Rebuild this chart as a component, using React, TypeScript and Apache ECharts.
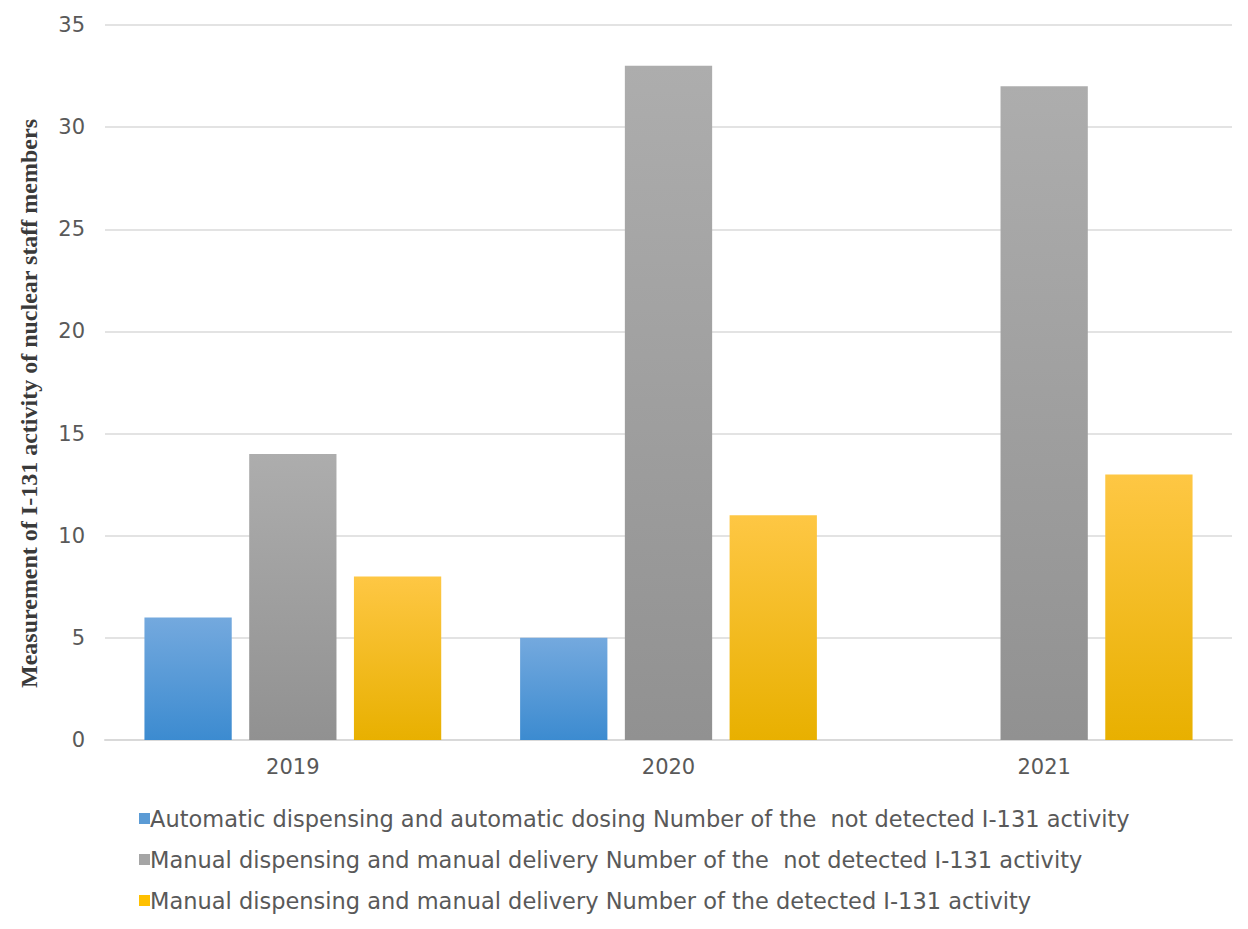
import React, { useEffect, useRef } from "react";
import * as echarts from "echarts";

const categories = ["2019", "2020", "2021"];
const seriesNames = [
  "Automatic dispensing and automatic dosing Number of the  not detected I-131 activity",
  "Manual dispensing and manual delivery Number of the  not detected I-131 activity",
  "Manual dispensing and manual delivery Number of the detected I-131 activity",
];
const autoNotDetected = [6, 5, null];
const manualNotDetected = [14, 33, 32];
const manualDetected = [8, 11, 13];
const yTicks = { min: 0, max: 35, interval: 5 };
const yTitle = "Measurement of I-131 activity of nuclear staff members";

const grad = (top: string, bottom: string) =>
  new echarts.graphic.LinearGradient(0, 0, 0, 1, [
    { offset: 0, color: top },
    { offset: 1, color: bottom },
  ]);

export default function App() {
  const ref = useRef<HTMLDivElement>(null);
  useEffect(() => {
    if (!ref.current) return;
    const chart = echarts.init(ref.current, undefined, { renderer: "svg" });
    const colors = [
      grad("#74a9de", "#3c8bd0"),
      grad("#adadad", "#919191"),
      grad("#fec744", "#e8b000"),
    ];
    const legendColors = ["#5b9bd5", "#a5a5a5", "#ffc000"];
    const data = [autoNotDetected, manualNotDetected, manualDetected];
    chart.setOption({
      animation: false,
      backgroundColor: "#ffffff",
      grid: { left: 105, right: 16, top: 25, bottom: 189, containLabel: false },
      legend: {
        orient: "vertical",
        left: 134,
        top: 802,
        itemWidth: 11,
        itemHeight: 11,
        itemGap: 18,
        icon: "rect",
        textStyle: {
          fontFamily: "DejaVu Sans",
          fontSize: 22.5,
          lineHeight: 23,
          color: "#595959",
          padding: [0, 0, 0, -5],
        },
        data: seriesNames.map((n, i) => ({ name: n, itemStyle: { color: legendColors[i] } })),
      },
      xAxis: {
        type: "category",
        data: categories,
        axisLine: { show: true, lineStyle: { color: "#d9d9d9", width: 2 } },
        axisTick: { show: false },
        axisLabel: { fontFamily: "DejaVu Sans", fontSize: 21, color: "#595959", margin: 16 },
      },
      yAxis: {
        type: "value",
        min: yTicks.min,
        max: yTicks.max,
        interval: yTicks.interval,
        name: yTitle,
        nameLocation: "middle",
        nameRotate: 90,
        nameGap: 64,
        nameTextStyle: {
          fontFamily: "Liberation Serif",
          fontWeight: "bold",
          fontSize: 24,
          color: "#3a3a3a",
          padding: [0, 42, 0, 0],
        },
        axisLine: { show: false },
        axisTick: { show: false },
        splitLine: { lineStyle: { color: "#e3e3e3", width: 2 } },
        axisLabel: { fontFamily: "DejaVu Sans", fontSize: 21, color: "#595959", margin: 20 },
      },
      series: data.map((d, i) => ({
        name: seriesNames[i],
        type: "bar",
        data: d,
        barGap: "20%",
        barCategoryGap: "21%",
        itemStyle: { color: colors[i] },
      })),
    });
    return () => chart.dispose();
  }, []);
  return (
    <div
      ref={ref}
      style={{ position: "absolute", left: 0, top: 0, width: 1248, height: 929 }}
    />
  );
}
